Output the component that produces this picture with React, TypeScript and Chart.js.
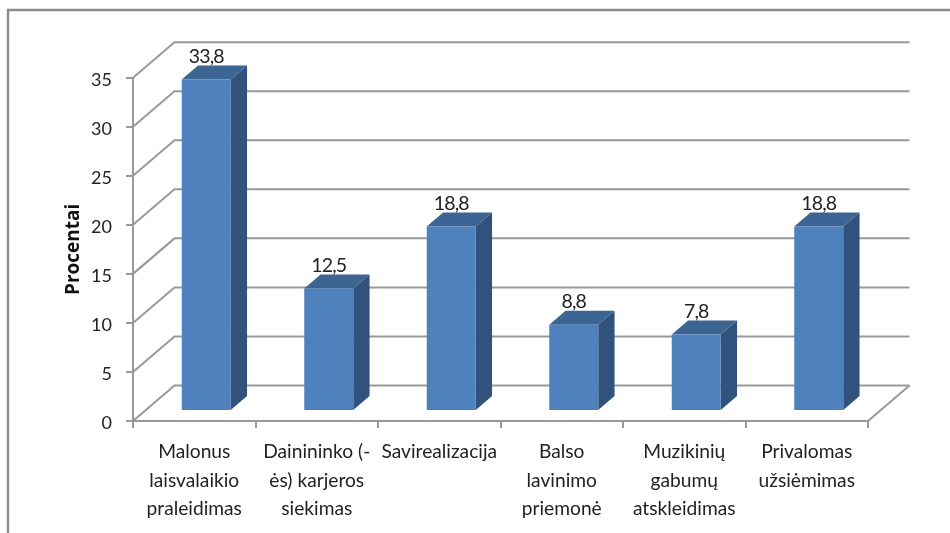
import React, { useEffect, useRef } from "react";
import { Chart, registerables } from "chart.js";

Chart.register(...registerables);

const categories: string[][] = [
  ["Malonus", "laisvalaikio", "praleidimas"],
  ["Dainininko (-", "ės) karjeros", "siekimas"],
  ["Savirealizacija"],
  ["Balso", "lavinimo", "priemonė"],
  ["Muzikinių", "gabumų", "atskleidimas"],
  ["Privalomas", "užsiėmimas"],
];
const percentValues: number[] = [33.8, 12.5, 18.8, 8.8, 7.8, 18.8];
const axisTitle = "Procentai";

const FONT = "Lato, 'Open Sans', sans-serif";
const TEXT = "#222222";
const GRID = "#999999";
const FRONT = "#4f81bd";
const SIDE = "#30527c";
const TOP = "#3c6594";
const WALL_DX = 41.5;
const WALL_DY = 35.5;
const BAR_DX = 12;
const BAR_DY = 10;
const SIDE_DX = 16.3;
const SIDE_DY = 14;

function line(ctx: CanvasRenderingContext2D, pts: number[][], color = GRID, w = 2) {
  ctx.save();
  ctx.strokeStyle = color;
  ctx.lineWidth = w;
  ctx.beginPath();
  pts.forEach((p, i) => (i ? ctx.lineTo(p[0], p[1]) : ctx.moveTo(p[0], p[1])));
  ctx.stroke();
  ctx.restore();
}

function poly(ctx: CanvasRenderingContext2D, pts: number[][], color: string) {
  ctx.fillStyle = color;
  ctx.beginPath();
  pts.forEach((p, i) => (i ? ctx.lineTo(p[0], p[1]) : ctx.moveTo(p[0], p[1])));
  ctx.closePath();
  ctx.fill();
}

const threeD = {
  id: "threeD",
  beforeDraw(chart: any) {
    const ctx = chart.ctx;
    line(ctx, [[8, 533], [8, 10], [950, 10]], "#8a8a8a", 2.4);
  },
  beforeDatasetsDraw(chart: any) {
    const ctx: CanvasRenderingContext2D = chart.ctx;
    const { left, right } = chart.chartArea;
    const y = chart.scales.y;
    y.ticks.forEach((t: any) => {
      const py = y.getPixelForValue(t.value);
      line(ctx, [[left, py], [left + WALL_DX, py - WALL_DY], [right + WALL_DX, py - WALL_DY]]);
    });
    const y0 = y.getPixelForValue(0);
    line(ctx, [[right, y0], [right + WALL_DX, y0 - WALL_DY]]);

    ctx.save();
    ctx.translate(BAR_DX, -BAR_DY);
    chart.getDatasetMeta(0).data.forEach((bar: any) => {
      const { x, y: top, base, width } = bar.getProps(["x", "y", "base", "width"], true);
      const r = x + width / 2;
      const l = x - width / 2;
      poly(ctx, [[r, top], [r + SIDE_DX, top - SIDE_DY], [r + SIDE_DX, base - SIDE_DY], [r, base]], SIDE);
      poly(ctx, [[l, top], [l + SIDE_DX, top - SIDE_DY], [r + SIDE_DX, top - SIDE_DY], [r, top]], TOP);
    });
  },
  afterDatasetsDraw(chart: any) {
    const ctx: CanvasRenderingContext2D = chart.ctx;
    ctx.restore();
    ctx.save();
    ctx.fillStyle = TEXT;
    ctx.font = `19.5px ${FONT}`;
    (ctx as any).letterSpacing = "-0.8px";
    ctx.textAlign = "center";
    ctx.textBaseline = "middle";
    chart.getDatasetMeta(0).data.forEach((bar: any, i: number) => {
      const { x, y: top } = bar.getProps(["x", "y"], true);
      ctx.fillText(String(percentValues[i]).replace(".", ","), x + BAR_DX, top - BAR_DY - 23);
    });
    ctx.restore();
  },
};

export default function App() {
  const ref = useRef<HTMLCanvasElement | null>(null);
  useEffect(() => {
    document.body.style.margin = "0";
    document.body.style.background = "#fff";
    const chart = new Chart(ref.current as HTMLCanvasElement, {
      type: "bar",
      data: {
        labels: categories as any,
        datasets: [
          {
            label: axisTitle,
            data: percentValues,
            backgroundColor: FRONT,
            borderWidth: 0,
            barPercentage: 1,
            categoryPercentage: 0.4,
            clip: false as any,
          },
        ],
      },
      options: {
        responsive: false,
        animation: false,
        layout: { padding: { left: 62, top: 77.7, right: 82, bottom: 0 } },
        plugins: { legend: { display: false }, title: { display: false }, tooltip: { enabled: false } },
        scales: {
          x: {
            afterFit(scale: any) {
              scale.height = 533 - 421;
            },
            border: { color: GRID, width: 2 },
            grid: { drawOnChartArea: false, drawTicks: true, tickLength: 7, color: GRID, lineWidth: 2 },
            ticks: {
              autoSkip: false,
              maxRotation: 0,
              minRotation: 0,
              padding: 10,
              color: TEXT,
              font: { family: FONT, size: 19.2, lineHeight: 28.5 / 19.2 },
            },
          },
          y: {
            min: 0,
            max: 35,
            afterFit(scale: any) {
              scale.width = 133 - 62;
            },
            border: { color: GRID, width: 2 },
            grid: { drawOnChartArea: false, drawTicks: true, tickLength: 7, color: GRID, lineWidth: 2 },
            ticks: {
              stepSize: 5,
              padding: 14,
              color: TEXT,
              font: { family: FONT, size: 18, lineHeight: 4 / 18 },
              callback: (v: any) => ["", String(v)],
            },
            title: {
              display: true,
              text: axisTitle,
              color: "#111",
              padding: 0,
              font: { family: "'Open Sans', sans-serif", size: 19, weight: "bold" },
            },
          },
        },
      },
      plugins: [threeD],
    } as any);
    return () => chart.destroy();
  }, []);
  return (
    <canvas
      ref={ref}
      width={950}
      height={533}
      style={{ display: "block", width: 950, height: 533 }}
    />
  );
}
